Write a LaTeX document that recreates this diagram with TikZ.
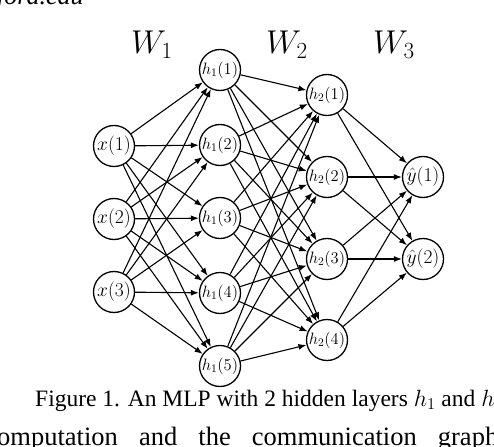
\documentclass[tikz,border=0pt]{standalone}
\usepackage{fix-cm}
\usepackage[no-math]{fontspec}
\setmainfont{Liberation Serif}
\usetikzlibrary{arrows.meta}
\begin{document}
\begin{tikzpicture}[x=1pt,y=-1pt,
                     main node/.style={circle,draw,line width=1.3pt,inner sep=0pt,minimum size=41pt,font=\fontsize{16.5}{16.5}\selectfont},
                     big node/.style={main node,font=\fontsize{19.5}{19.5}\selectfont},
                     link/.style={-{Latex[length=8pt,width=6pt]},line width=1.1pt},
                     weight/.style={font=\fontsize{33}{33}\selectfont}
                    ]
   \useasboundingbox (0,0) rectangle (494,446);
   \clip (0,0) rectangle (494,446);
   % text round the figure
   \node[anchor=base west,inner sep=0pt,font=\fontsize{26}{26}\selectfont\itshape] (site) at (-3,5) {ford.edu};
   \node[weight] (w1) at (152,45) {$W_1$};
   \node[weight] (w2) at (287,45) {$W_2$};
   \node[weight] (w3) at (394,45) {$W_3$};
   % input layer
   \node[big node] (x1) at (114,146) {$x(1)$};
   \node[big node] (x2) at (114,219) {$x(2)$};
   \node[big node] (x3) at (114,292) {$x(3)$};
   % first hidden layer
   \node[main node] (h11) at (220,70) {$h_1(1)$};
   \node[main node] (h12) at (220,145) {$h_1(2)$};
   \node[main node] (h13) at (220,218) {$h_1(3)$};
   \node[main node] (h14) at (220,293) {$h_1(4)$};
   \node[main node] (h15) at (220,366) {$h_1(5)$};
   % second hidden layer
   \node[main node] (h21) at (327,95) {$h_2(1)$};
   \node[main node] (h22) at (327,177) {$h_2(2)$};
   \node[main node] (h23) at (327,259) {$h_2(3)$};
   \node[main node] (h24) at (327,340) {$h_2(4)$};
   % outputs
   \node[big node] (y1) at (423,177) {$\hat{y}(1)$};
   \node[big node] (y2) at (423,259) {$\hat{y}(2)$};
   \path[link]%
     (x1) edge (h11)
     (x1) edge (h12)
     (x1) edge (h13)
     (x1) edge (h14)
     (x1) edge (h15)
     (x2) edge (h11)
     (x2) edge (h12)
     (x2) edge (h13)
     (x2) edge (h14)
     (x2) edge (h15)
     (x3) edge (h11)
     (x3) edge (h12)
     (x3) edge (h13)
     (x3) edge (h14)
     (x3) edge (h15)
     (h11) edge (h21)
     (h11) edge (h22)
     (h11) edge (h23)
     (h11) edge (h24)
     (h12) edge (h21)
     (h12) edge (h22)
     (h12) edge (h23)
     (h12) edge (h24)
     (h13) edge (h21)
     (h13) edge (h22)
     (h13) edge (h23)
     (h13) edge (h24)
     (h14) edge (h21)
     (h14) edge (h22)
     (h14) edge (h23)
     (h14) edge (h24)
     (h15) edge (h21)
     (h15) edge (h22)
     (h15) edge (h23)
     (h15) edge (h24)
     (h21) edge (y1)
     (h21) edge (y2)
     (h22) edge (y1)
     (h22) edge (y2)
     (h23) edge (y1)
     (h23) edge (y2)
     (h24) edge (y1)
     (h24) edge (y2);
   % caption and body text
   \node[anchor=base west,inner sep=0pt,font=\fontsize{23.5}{24}\selectfont] (caption) at (35,406) {Figure 1. An MLP with 2 hidden layers $h_1$ and $h$};
   \node[anchor=base west,inner sep=0pt,font=\fontsize{26.5}{27}\selectfont] (body) at (-3,445) {\makebox[501pt][s]{omputation and the communication graph}};
\end{tikzpicture}
\end{document}
